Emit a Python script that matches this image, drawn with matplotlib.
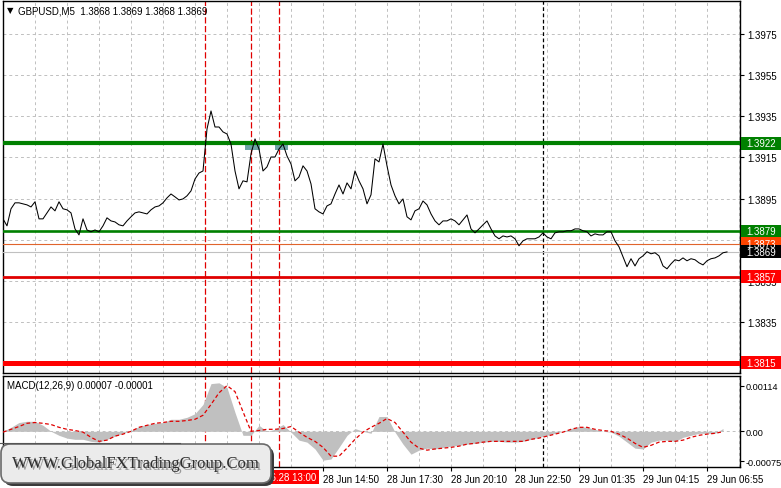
import matplotlib
matplotlib.use("Agg")
import matplotlib.pyplot as plt
import matplotlib.transforms as mtransforms
from matplotlib.patches import Rectangle, FancyBboxPatch

plt.rcParams['font.family'] = ['Liberation Sans', 'DejaVu Sans']

W, H = 781, 489

# GBPUSD M5 closes, one value every 10 minutes starting 28 Jun 01:30
price_start = 90      # minutes after 28 Jun 00:00
price_step = 10
close = [
    1.38851, 1.38817, 1.38900, 1.38929, 1.38929, 1.38924, 1.38919, 1.38909, 1.38934, 1.38851,
    1.38851, 1.38880, 1.38909, 1.38890, 1.38934, 1.38900, 1.38895, 1.38880, 1.38802, 1.38773,
    1.38851, 1.38797, 1.38788, 1.38797, 1.38788, 1.38817, 1.38856, 1.38841, 1.38836, 1.38822,
    1.38817, 1.38841, 1.38861, 1.38880, 1.38885, 1.38880, 1.38875, 1.38895, 1.38909, 1.38914,
    1.38929, 1.38953, 1.38972, 1.38958, 1.38943, 1.38948, 1.38963, 1.38987, 1.39045, 1.39074,
    1.39084, 1.39288, 1.39376, 1.39298, 1.39298, 1.39274, 1.39264, 1.39215, 1.39084, 1.38997,
    1.39036, 1.39031, 1.39167, 1.39240, 1.39191, 1.39084, 1.39104, 1.39152, 1.39152, 1.39191,
    1.39215, 1.39157, 1.39118, 1.39036, 1.39055, 1.39109, 1.39084, 1.39021, 1.38900, 1.38885,
    1.38875, 1.38914, 1.38924, 1.38972, 1.39016, 1.38972, 1.39026, 1.38997, 1.39084, 1.39036,
    1.38997, 1.38924, 1.38968, 1.39143, 1.39128, 1.39215, 1.39109, 1.39016, 1.38963, 1.38924,
    1.38948, 1.38861, 1.38846, 1.38890, 1.38900, 1.38938, 1.38919, 1.38875, 1.38841, 1.38822,
    1.38841, 1.38841, 1.38851, 1.38841, 1.38822, 1.38846, 1.38870, 1.38802, 1.38783, 1.38802,
    1.38822, 1.38841, 1.38802, 1.38768, 1.38754, 1.38768, 1.38763, 1.38768, 1.38754, 1.38720,
    1.38744, 1.38754, 1.38754, 1.38754, 1.38763, 1.38783, 1.38763, 1.38754, 1.38783, 1.38788,
    1.38788, 1.38793, 1.38793, 1.38802, 1.38802, 1.38793, 1.38788, 1.38768, 1.38778, 1.38773,
    1.38773, 1.38788, 1.38788, 1.38744, 1.38715, 1.38666, 1.38618, 1.38657, 1.38622, 1.38657,
    1.38671, 1.38691, 1.38681, 1.38686, 1.38671, 1.38622, 1.38608, 1.38632, 1.38652, 1.38647,
    1.38661, 1.38647, 1.38657, 1.38652, 1.38637, 1.38627, 1.38647, 1.38657, 1.38661, 1.38671,
    1.38686, 1.38690,
]

# MACD(12,26,9), one value every 20 minutes starting 28 Jun 01:30
macd_start = 90
macd_step = 20
macd_hist = [
    0.0, 0.00010, 0.00022, 0.00025, 0.00025, 0.00015, 0.0, -0.00010, -0.00017, -0.00020,
    -0.00020, -0.00025, -0.00027, -0.00020, -0.00012, -0.00005, 0.00002, 0.00012, 0.00017, 0.00020,
    0.00022, 0.00030, 0.00030, 0.00035, 0.00044, 0.00067, 0.00119, 0.00121, 0.00109, 0.00047,
    -0.00010, -0.00010, 0.00015, 0.0, 0.00005, 0.00017, -0.00002, -0.00022, -0.00027, -0.00044,
    -0.00072, -0.00069, -0.00040, -0.00010, 0.00007, 0.0, -0.00005, 0.00037, 0.00037, -0.00002,
    -0.00032, -0.00057, -0.00047, -0.00042, -0.00044, -0.00040, -0.00037, -0.00035, -0.00032, -0.00030,
    -0.00027, -0.00025, -0.00025, -0.00027, -0.00027, -0.00025, -0.00020, -0.00015, -0.00010, -0.00005,
    0.0, 0.00007, 0.00012, 0.00010, 0.00005, 0.0, -0.00002, -0.00012, -0.00027, -0.00042,
    -0.00044, -0.00027, -0.00022, -0.00022, -0.00025, -0.00015, -0.00010, -0.00005, -0.00005, -0.00005,
    0.00007,
]
macd_signal = [
    -0.00002, 0.00005, 0.00012, 0.00020, 0.00022, 0.00020, 0.00017, 0.00010, 0.00005, 0.00002,
    -0.00002, -0.00015, -0.00025, -0.00022, -0.00012, -0.00007, 0.0, 0.00010, 0.00015, 0.00020,
    0.00022, 0.00025, 0.00025, 0.00027, 0.00030, 0.00040, 0.00067, 0.00096, 0.00114, 0.00099,
    0.00049, 0.0, 0.00002, 0.00005, 0.00005, 0.00007, 0.00012, -0.00002, -0.00015, -0.00025,
    -0.00040, -0.00062, -0.00062, -0.00042, -0.00020, -0.00002, 0.00010, 0.00020, 0.00032, 0.00022,
    -0.00002, -0.00027, -0.00042, -0.00047, -0.00044, -0.00042, -0.00040, -0.00037, -0.00032, -0.00030,
    -0.00027, -0.00025, -0.00025, -0.00025, -0.00025, -0.00025, -0.00020, -0.00017, -0.00012, -0.00007,
    -0.00002, 0.00005, 0.00010, 0.00010, 0.00005, 0.00002, 0.0, -0.00007, -0.00017, -0.00030,
    -0.00040, -0.00035, -0.00027, -0.00025, -0.00025, -0.00022, -0.00015, -0.00010, -0.00007, -0.00005,
    -0.00001,
]

# horizontal levels: value, line colour, label colour, width
levels = [1.3922, 1.3879, 1.3873, 1.3869, 1.3857, 1.3815]
level_line_colors = ['#008000', '#008000', '#e0642c', '#c0c0c0', '#e00000', '#ff0000']
level_box_colors = ['#008000', '#008000', '#ff4500', '#000000', '#ff0000', '#ff0000']
level_widths = [3.0, 1.9, 0.8, 0.8, 2.0, 3.6]

price_ticks = [1.3975, 1.3955, 1.3935, 1.3915, 1.3895, 1.3875, 1.3855, 1.3835, 1.3815]
macd_ticks = [0.00114, 0.0, -0.00075]
macd_tick_labels = ['0.00114', '0.00', '-0.00075']

time_ticks = [890, 1050, 1210, 1370, 1530, 1690, 1850]
time_labels = ['28 Jun 14:50', '28 Jun 17:30', '28 Jun 20:10', '28 Jun 22:50',
               '29 Jun 01:35', '29 Jun 04:15', '29 Jun 06:55']

signal_lines = [595, 710, 780]     # 09:55, 11:50, 13:00
day_separator = 1440               # 29 Jun 00:00
touch_boxes = [(695, 732), (770, 802)]

xmin, xmax = 90, 1932.5
price_x = [price_start + i * price_step for i in range(len(close))]
macd_x = [macd_start + i * macd_step for i in range(len(macd_hist))]
grid_x = list(range(170, 1932, 80))

fig = plt.figure(figsize=(W / 100, H / 100), dpi=100)
fig.patch.set_facecolor('white')

ax = fig.add_axes([3 / W, 1 - 374 / H, 737 / W, 372 / H])
axm = fig.add_axes([3 / W, 1 - 468 / H, 737 / W, 91 / H])

for a in (ax, axm):
    a.set_xlim(xmin, xmax)
    for s in a.spines.values():
        s.set_color('black')
        s.set_linewidth(1.0)
    for gx in grid_x:
        a.axvline(gx, color='#c0c0c0', lw=0.7, ls=(0, (3, 3)), zorder=0)
    for sx in signal_lines:
        a.axvline(sx, color='#e00000', lw=0.9, ls=(0, (5, 2)), zorder=1)
    a.axvline(day_separator, color='black', lw=0.9, ls=(0, (3, 2)), zorder=1)
    a.yaxis.tick_right()
    a.tick_params(axis='y', direction='out', length=3, width=0.8, labelsize=7, pad=2)

# ---- price panel
ax.set_ylim(1.38101, 1.39911)
ax.set_yticks(price_ticks)
ax.set_yticklabels([f'{t:.4f}' for t in price_ticks])
ax.set_xticks([])
for t in price_ticks:
    ax.axhline(t, color='#c0c0c0', lw=0.7, ls=(0, (3, 3)), zorder=0)

for (x0, x1) in touch_boxes:
    ax.add_patch(Rectangle((x0, 1.39188), x1 - x0, 0.00032, fc='#5f9a9e', ec='none', alpha=0.9, zorder=2))

for lvl, lc, lw in zip(levels, level_line_colors, level_widths):
    ax.axhline(lvl, color=lc, lw=lw, zorder=3)

ax.plot(price_x, close, color='black', lw=0.75, zorder=4)

# price labels on the right scale
px_data = (1.39911 - 1.38101) / 372
trans = mtransforms.blended_transform_factory(ax.transAxes, ax.transData)
for lvl, bc in zip(levels, level_box_colors):
    ax.add_patch(Rectangle((1 + 1 / 737, lvl - 6.5 * px_data), 41 / 737, 13 * px_data,
                           transform=trans, fc=bc, ec='none', clip_on=False, zorder=6))
    ax.text(1 + 6 / 737, lvl, f'{lvl:.4f}', transform=trans, color='white', fontsize=7,
            va='center', ha='left', clip_on=False, zorder=7)

# ---- MACD panel
axm.set_ylim(-0.00089, 0.00138)
axm.set_yticks(macd_ticks)
axm.set_yticklabels(macd_tick_labels)
axm.tick_params(axis='y', pad=1, labelsize=6.6)
axm.axhline(0, color='#c0c0c0', lw=0.7, ls=(0, (3, 3)), zorder=0)
axm.fill_between(macd_x, 0, macd_hist, color='#c0c0c0', lw=0, zorder=2)
axm.plot(macd_x, macd_signal, color='#e00000', lw=0.9, ls=(0, (3, 2)), zorder=3)
axm.set_xticks(time_ticks)
axm.set_xticklabels(time_labels)
axm.tick_params(axis='x', direction='out', length=3, width=0.8, labelsize=7, pad=2)
for lab in axm.get_xticklabels():
    lab.set_ha('left')

ttrans = mtransforms.blended_transform_factory(axm.transData, axm.transAxes)
axm.text(signal_lines[2], -0.11, '2021.06.28 13:00', transform=ttrans, ha='center', va='center',
         fontsize=7, color='white', clip_on=False, zorder=8,
         bbox=dict(boxstyle='square,pad=0.2', fc='#ff0000', ec='none'))

# ---- overlay: titles and watermark (pixel coordinates)
ov = fig.add_axes([0, 0, 1, 1], zorder=10)
ov.set_xlim(0, W)
ov.set_ylim(H, 0)
ov.axis('off')
ov.patch.set_alpha(0)

ov.text(7, 11, '\u25bc', fontsize=6, family=['DejaVu Sans'], va='center', ha='left')
ov.text(18, 11, 'GBPUSD,M5  1.3868 1.3869 1.3868 1.3869', fontsize=7, va='center', ha='left')
ov.text(7, 386, 'MACD(12,26,9) 0.00007 -0.00001', fontsize=7, va='center', ha='left')

ov.plot([0, 180], [444, 444], color='#555555', lw=0.8)
ov.add_patch(FancyBboxPatch((6, 450), 266, 35, boxstyle='round,pad=2,rounding_size=9',
                            fc='#3a3a3a', ec='none'))
ov.add_patch(FancyBboxPatch((3, 447), 266, 35, boxstyle='round,pad=2,rounding_size=9',
                            fc='#ebebeb', ec='#6a6a6a', lw=1.2))
ov.text(137.5, 465.5, 'WWW.GlobalFXTradingGroup.Com', fontsize=12, family=['Liberation Serif'],
        color='#9a9a9a', ha='center', va='center')
ov.text(136, 464, 'WWW.GlobalFXTradingGroup.Com', fontsize=12, family=['Liberation Serif'],
        color='#2e2e2e', ha='center', va='center')

fig.savefig('out.png', dpi=100)
